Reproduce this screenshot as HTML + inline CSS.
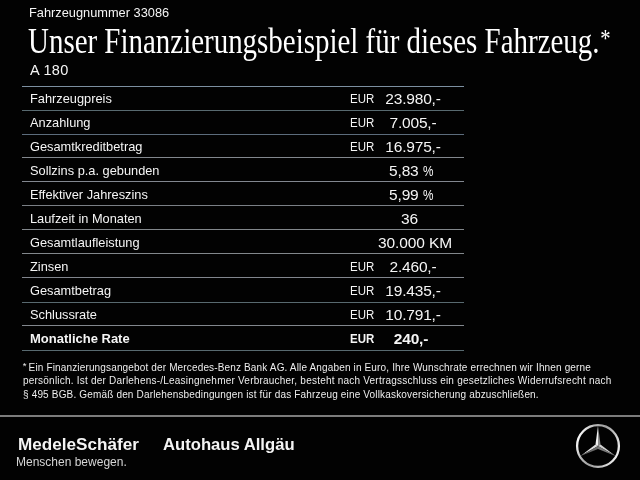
<!DOCTYPE html>
<html><head><meta charset="utf-8">
<style>
html,body{margin:0;padding:0;}
body{width:640px;height:480px;background:#020202;position:relative;overflow:hidden;font-family:"Liberation Sans",Arial,sans-serif;color:#f5f5f5;}
.a{position:absolute;white-space:nowrap;line-height:1;}
#fn{left:29px;top:7px;font-size:12.8px;}
#title{left:28px;top:24px;font-family:"Liberation Serif",serif;font-size:35px;transform:scaleX(0.827);transform-origin:0 0;color:#fff;}
#model{left:30px;top:63px;font-size:14.5px;letter-spacing:0.3px;}
.ln{position:absolute;left:22px;width:442px;height:1px;background:#7f8d9a;}
.r{position:absolute;left:0;width:640px;height:16px;font-size:12.5px;line-height:12.5px;white-space:nowrap;}
.lb{position:absolute;left:30px;top:0;font-size:12.8px;}
.b .lb{font-size:13px;}
.eur{position:absolute;left:349.5px;top:0;transform:scaleX(0.92);transform-origin:0 0;}
.val{position:absolute;left:373px;top:0px;width:80px;text-align:center;font-size:15.5px;letter-spacing:-0.2px;}
.b{font-weight:bold;}
.pc{font-style:normal;display:inline-block;transform:scaleX(0.76);transform-origin:0 0;margin-right:-3.3px;}
.fl{position:absolute;font-size:10px;line-height:10px;white-space:nowrap;color:#ededed;}
#gl{position:absolute;left:0;top:415px;width:640px;height:2px;background:#7c7c7c;}
#ms{left:18px;top:437px;font-size:16px;font-weight:bold;color:#f4f4f4;transform:scaleX(1.07);transform-origin:0 0;}
#mb{left:16px;top:456px;font-size:12px;color:#d6d6d6;}
#aa{left:163px;top:437px;font-size:16px;font-weight:bold;color:#f4f4f4;transform:scaleX(1.04);transform-origin:0 0;}
#star{position:absolute;left:574px;top:421.5px;}
</style></head><body>
<div class="a" id="fn">Fahrzeugnummer 33086</div>
<div class="a" id="title">Unser Finanzierungsbeispiel für dieses Fahrzeug.<span style="font-size:25px;position:relative;top:-6px;margin-left:1px">*</span></div>
<div class="a" id="model">A 180</div>
<div class="ln" style="top:86px;background:#7c8fa0"></div>
<div class="ln" style="top:110px;background:#586a70"></div>
<div class="ln" style="top:134px;background:#5c6c7c"></div>
<div class="ln" style="top:157px;background:#82878d"></div>
<div class="ln" style="top:181px;background:#82878f"></div>
<div class="ln" style="top:205px;background:#7a7f85"></div>
<div class="ln" style="top:229px;background:#82878b"></div>
<div class="ln" style="top:253px;background:#82878b"></div>
<div class="ln" style="top:277px;background:#81858d"></div>
<div class="ln" style="top:302px;background:#58696f"></div>
<div class="ln" style="top:325px;background:#82878d"></div>
<div class="ln" style="top:350px;background:#586a70"></div>
<div class="r" style="top:93px"><span class="lb">Fahrzeugpreis</span><span class="eur">EUR</span><span class="val">23.980,-</span></div>
<div class="r" style="top:117px"><span class="lb">Anzahlung</span><span class="eur">EUR</span><span class="val">7.005,-</span></div>
<div class="r" style="top:141px"><span class="lb">Gesamtkreditbetrag</span><span class="eur">EUR</span><span class="val">16.975,-</span></div>
<div class="r" style="top:165px"><span class="lb">Sollzins p.a. gebunden</span><span class="val" style="left:371px">5,83 <i class="pc">%</i></span></div>
<div class="r" style="top:189px"><span class="lb">Effektiver Jahreszins</span><span class="val" style="left:371px">5,99 <i class="pc">%</i></span></div>
<div class="r" style="top:213px"><span class="lb">Laufzeit in Monaten</span><span class="val" style="left:369.5px">36</span></div>
<div class="r" style="top:237px"><span class="lb">Gesamtlaufleistung</span><span class="val" style="left:375px;letter-spacing:-0.1px">30.000 KM</span></div>
<div class="r" style="top:261px"><span class="lb">Zinsen</span><span class="eur">EUR</span><span class="val">2.460,-</span></div>
<div class="r" style="top:285px"><span class="lb">Gesamtbetrag</span><span class="eur">EUR</span><span class="val">19.435,-</span></div>
<div class="r" style="top:309px"><span class="lb">Schlussrate</span><span class="eur">EUR</span><span class="val">10.791,-</span></div>
<div class="r b" style="top:333px"><span class="lb">Monatliche Rate</span><span class="eur">EUR</span><span class="val" style="left:371px">240,-</span></div>
<div class="fl" style="left:22.8px;top:361px;font-size:9.5px;">*</div>
<div class="fl" style="left:28.6px;top:363px;letter-spacing:0.15px;">Ein Finanzierungsangebot der Mercedes-Benz Bank AG. Alle Angaben in Euro, Ihre Wunschrate errechnen wir Ihnen gerne</div>
<div class="fl" style="left:23px;top:376px;letter-spacing:0.22px;">persönlich. Ist der Darlehens-/Leasingnehmer Verbraucher, besteht nach Vertragsschluss ein gesetzliches Widerrufsrecht nach</div>
<div class="fl" style="left:23px;top:390px;letter-spacing:0.165px;">§ 495 BGB. Gemäß den Darlehensbedingungen ist für das Fahrzeug eine Vollkaskoversicherung abzuschließen.</div>

<div id="gl"></div>
<div class="a" id="ms">MedeleSchäfer</div>
<div class="a" id="mb">Menschen bewegen.</div>
<div class="a" id="aa">Autohaus Allgäu</div>

<svg id="star" width="48" height="48" viewBox="0 0 48 48">
<defs>
<linearGradient id="rg" x1="0" y1="0.3" x2="1" y2="0.7">
<stop offset="0" stop-color="#ffffff"/><stop offset="0.25" stop-color="#b8b8b8"/><stop offset="0.5" stop-color="#a0a0a0"/><stop offset="0.75" stop-color="#c4c4c4"/><stop offset="1" stop-color="#f4f4f4"/>
</linearGradient>
</defs>
<circle cx="24" cy="24" r="20.9" fill="none" stroke="url(#rg)" stroke-width="2.3"/>
<path d="M24.00 24.00L24.00 3.80L21.49 22.55Z" fill="#f2f2f2"/>
<path d="M24.00 24.00L24.00 3.80L26.51 22.55Z" fill="#8c8c8c"/>
<path d="M24.00 24.00L6.51 34.10L21.49 22.55Z" fill="#e0e0e0"/>
<path d="M24.00 24.00L6.51 34.10L24.00 26.90Z" fill="#6a6a6a"/>
<path d="M24.00 24.00L41.49 34.10L26.51 22.55Z" fill="#d0d0d0"/>
<path d="M24.00 24.00L41.49 34.10L24.00 26.90Z" fill="#7a7a7a"/>
</svg>
</body></html>
